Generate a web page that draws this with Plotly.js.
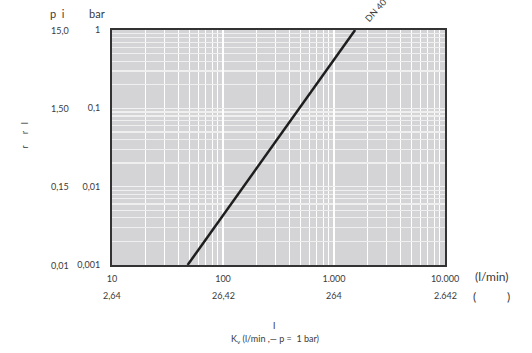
<!DOCTYPE html>
<html>
<head>
<meta charset="utf-8">
<script src="https://cdn.plot.ly/plotly-3.0.1.min.js"></script>
<style>html,body{margin:0;padding:0;background:#fff;}#chart{width:532px;height:353px;}</style>
</head>
<body>
<div id="chart"></div>
<script>
// Data
var flowLpm = [48, 1550];          // flow (l/min) at the two ends of the DN 40 line
var pressureBar = [0.001, 1];      // pressure drop (bar)
var flowTicks = [10, 100, 1000, 10000];
var flowTickText = ['10', '100', '1.000', '10.000'];
var kvTickText = ['2,64', '26,42', '264', '2.642'];
var barTicks = [0.001, 0.01, 0.1, 1];
var barTickText = ['0,001', '0,01', '0,1', '1'];
var psiTickText = ['0,01', '0,15', '1,50', '15,0'];
var seriesName = 'DN 40';

var font = 'Lato, "Open Sans", sans-serif';
var txt = '#3a3a3a';

var annotations = [];
// second row of x labels
for (var i = 0; i < flowTicks.length; i++) {
  annotations.push({xref: 'x', yref: 'paper', x: Math.log10(flowTicks[i]), y: -0.13,
    text: kvTickText[i], showarrow: false, xanchor: 'center', yanchor: 'middle',
    font: {family: font, size: 9, color: txt}});
}
// psi column
for (var j = 0; j < barTicks.length; j++) {
  annotations.push({xref: 'paper', yref: 'y', x: -0.124, y: Math.log10(barTicks[j]),
    text: psiTickText[j], showarrow: false, xanchor: 'right', yanchor: 'middle',
    font: {family: font, size: 9, color: txt}});
}
annotations.push(
  {xref: 'paper', yref: 'paper', x: -0.165, y: 1.07, text: 'p&nbsp;&nbsp;i', showarrow: false,
   xanchor: 'center', yanchor: 'middle', font: {family: font, size: 11, color: txt}},
  {xref: 'paper', yref: 'paper', x: -0.045, y: 1.07, text: 'bar', showarrow: false,
   xanchor: 'center', yanchor: 'middle', font: {family: font, size: 11, color: txt}},
  {xref: 'paper', yref: 'paper', x: 1.141, y: -0.05, text: '(l/min)', showarrow: false,
   xanchor: 'center', yanchor: 'middle', font: {family: font, size: 12, color: txt}},
  {xref: 'paper', yref: 'paper', x: 1.141, y: -0.135, text: '(&nbsp;&nbsp;&nbsp;&nbsp;&nbsp;&nbsp;&nbsp;&nbsp;&nbsp;&nbsp;)', showarrow: false,
   xanchor: 'center', yanchor: 'middle', font: {family: font, size: 12, color: txt}},
  {xref: 'paper', yref: 'paper', x: 0.485, y: -0.255, text: 'l', showarrow: false,
   xanchor: 'center', yanchor: 'middle', font: {family: font, size: 10, color: txt}},
  {xref: 'paper', yref: 'paper', x: 0.49, y: -0.315, text: 'K<sub>v</sub> (l/min ,— p =  1 bar)', showarrow: false,
   xanchor: 'center', yanchor: 'middle', font: {family: font, size: 9, color: txt}},
  {xref: 'paper', yref: 'paper', x: -0.265, y: 0.553, text: 'r&nbsp;&nbsp;&nbsp;&nbsp;&nbsp;r&nbsp;&nbsp;&nbsp;l', showarrow: false,
   textangle: -90, xanchor: 'center', yanchor: 'middle', font: {family: font, size: 9, color: txt}},
  {xref: 'paper', yref: 'paper', x: 0.79, y: 1.085, text: seriesName, showarrow: false,
   textangle: -48, xanchor: 'center', yanchor: 'middle', font: {family: font, size: 9, color: txt}}
);

var trace = {
  x: flowLpm, y: pressureBar, type: 'scatter', mode: 'lines', name: seriesName,
  line: {color: '#1e1e1e', width: 2.5}, showlegend: false, cliponaxis: true
};

var layout = {
  width: 532, height: 353,
  margin: {l: 112, r: 87, t: 30, b: 88},
  paper_bgcolor: '#ffffff',
  plot_bgcolor: '#d4d4d6',
  showlegend: false,
  font: {family: font, size: 9, color: txt},
  xaxis: {
    type: 'log', range: [1, 4], tickvals: flowTicks, ticktext: flowTickText,
    showgrid: true, gridcolor: '#ffffff', gridwidth: 1.2,
    minor: {dtick: 'D1', showgrid: true, gridcolor: '#ffffff', gridwidth: 1, ticks: ''},
    showline: true, mirror: true, linecolor: '#333333', linewidth: 2,
    ticks: '', ticklabelstandoff: 4, zeroline: false, tickfont: {family: font, size: 9, color: txt}
  },
  yaxis: {
    type: 'log', range: [-3, 0], tickvals: barTicks, ticktext: barTickText,
    showgrid: true, gridcolor: '#f2f2f2', gridwidth: 1.2,
    minor: {dtick: 'D1', showgrid: true, gridcolor: '#efefef', gridwidth: 1.2, ticks: ''},
    showline: true, mirror: true, linecolor: '#333333', linewidth: 2,
    ticks: '', ticklabelstandoff: 8, zeroline: false, tickfont: {family: font, size: 9, color: txt}
  },
  annotations: annotations
};

Plotly.newPlot('chart', [trace], layout, {staticPlot: true, displayModeBar: false});
</script>
</body>
</html>
